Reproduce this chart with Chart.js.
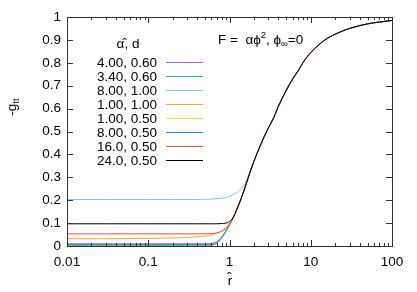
<!DOCTYPE html>
<html>
<head>
<meta charset="utf-8">
<style>
  html, body { margin: 0; padding: 0; background: #fff; }
</style>
<script src="https://cdn.jsdelivr.net/npm/chart.js@4/dist/chart.umd.min.js"></script>
</head>
<body>
<canvas id="gttChart" width="417" height="292"></canvas>
<script>
// radial coordinate r-hat (log axis)
const rValues = [0.01, 0.03, 0.1, 0.2, 0.3, 0.4, 0.5, 0.6, 0.7, 0.8, 0.9, 1.0, 1.1,
  1.25, 1.4, 1.6, 1.8, 2.0, 2.4, 3.0, 3.5, 4, 5, 6, 7, 8, 10, 15, 20, 30, 50, 70, 100]

// outer part shared by all curves, r = 2 ... 100
const tailValues = [0.37, 0.44, 0.515, 0.56, 0.61, 0.68, 0.73, 0.765, 0.80, 0.845,
  0.90, 0.925, 0.95, 0.97, 0.978, 0.985]

// -g_tt, r = 0.01 ... 1.8
const a400d060 = [0.010, 0.010, 0.010, 0.010, 0.010, 0.010, 0.010, 0.012, 0.020, 0.040, 0.066, 0.094, 0.121, 0.166, 0.210, 0.270, 0.325]
const a340d060 = [0.006, 0.006, 0.006, 0.006, 0.006, 0.006, 0.006, 0.008, 0.017, 0.039, 0.066, 0.094, 0.121, 0.166, 0.210, 0.270, 0.325]
const a800d100 = [0.203, 0.203, 0.203, 0.203, 0.203, 0.203, 0.204, 0.205, 0.207, 0.209, 0.212, 0.217, 0.223, 0.235, 0.252, 0.283, 0.327]
const a100d100 = [0.032, 0.032, 0.033, 0.035, 0.037, 0.040, 0.043, 0.048, 0.056, 0.066, 0.079, 0.096, 0.120, 0.165, 0.210, 0.270, 0.325]
const a100d050 = [0.002, 0.002, 0.002, 0.002, 0.002, 0.002, 0.002, 0.004, 0.013, 0.036, 0.064, 0.093, 0.120, 0.165, 0.210, 0.270, 0.325]
const a800d050 = [0.004, 0.004, 0.004, 0.004, 0.004, 0.004, 0.004, 0.005, 0.012, 0.034, 0.062, 0.092, 0.120, 0.165, 0.210, 0.270, 0.325]
const a1600d050 = [0.053, 0.053, 0.053, 0.053, 0.053, 0.053, 0.053, 0.054, 0.057, 0.064, 0.076, 0.095, 0.120, 0.165, 0.210, 0.270, 0.325]
const a2400d050 = [0.097, 0.097, 0.097, 0.097, 0.097, 0.097, 0.097, 0.097, 0.097, 0.098, 0.100, 0.106, 0.123, 0.166, 0.210, 0.270, 0.325]

const seriesLabels = ['4.00, 0.60', '3.40, 0.60', '8.00, 1.00', '1.00, 1.00',
  '1.00, 0.50', '8.00, 0.50', '16.0, 0.50', '24.0, 0.50']
const seriesValues = [a400d060, a340d060, a800d100, a100d100, a100d050, a800d050, a1600d050, a2400d050]
const seriesColors = ['#b062e6', '#20b084', '#78ccf0', '#f2aa30', '#eee040', '#2888cc', '#f04c3c', '#000000']

const xTicks = [0.01, 0.1, 1, 10, 100]
const yTicks = [0, 0.1, 0.2, 0.3, 0.4, 0.5, 0.6, 0.7, 0.8, 0.9, 1]

const FONT = '"Liberation Sans", Arial, sans-serif'
const FS = 13.5

const datasets = seriesValues.map((vals, i) => ({
  label: seriesLabels[i],
  data: vals.concat(tailValues).map((y, j) => ({ x: rValues[j], y })),
  borderColor: seriesColors[i],
  borderWidth: 1,
  pointRadius: 0,
  cubicInterpolationMode: 'monotone',
  order: -i
}))

// frame, mirrored ticks, legend and labels, gnuplot style
const decorations = {
  id: 'decorations',
  afterDatasetsDraw(chart) {
    const { ctx, chartArea: a, scales: { x, y } } = chart
    ctx.save()
    ctx.strokeStyle = '#333'
    ctx.lineWidth = 1
    ctx.beginPath()
    const tick = (px, len) => {
      px = Math.round(px) + 0.5
      ctx.moveTo(px, a.bottom); ctx.lineTo(px, a.bottom - len)
      ctx.moveTo(px, a.top); ctx.lineTo(px, a.top + len)
    }
    for (let e = -2; e <= 2; e++) {
      tick(x.getPixelForValue(Math.pow(10, e)), 6)
      if (e < 2) for (let k = 2; k <= 9; k++) tick(x.getPixelForValue(k * Math.pow(10, e)), 3)
    }
    yTicks.forEach(v => {
      const py = Math.round(y.getPixelForValue(v)) + 0.5
      ctx.moveTo(a.left, py); ctx.lineTo(a.left + 6, py)
      ctx.moveTo(a.right, py); ctx.lineTo(a.right - 6, py)
    })
    ctx.stroke()
    ctx.strokeRect(a.left + 0.5, a.top + 0.5, a.right - a.left, a.bottom - a.top)

    ctx.fillStyle = '#000'
    ctx.font = FS + 'px ' + FONT
    // legend
    ctx.textAlign = 'center'
    ctx.fillText('\u03b1\u0302, d', 128, 48)
    ctx.textAlign = 'right'
    seriesLabels.forEach((lab, i) => {
      const ly = 62.5 + 14 * i
      ctx.fillStyle = '#000'
      ctx.fillText(lab, 157, ly + 4.5)
      ctx.strokeStyle = seriesColors[i]
      ctx.beginPath()
      ctx.moveTo(166, ly); ctx.lineTo(203, ly)
      ctx.stroke()
    })

    // annotation F = alpha phi^2, phi_inf = 0
    ctx.textAlign = 'left'
    ctx.fillStyle = '#000'
    let tx = 218
    const base = 44
    const part = (s, size, dy) => {
      ctx.font = size + 'px ' + FONT
      ctx.fillText(s, tx, base + dy)
      tx += ctx.measureText(s).width
    }
    part('F =  \u03b1\u03d5', FS, 0)
    part('2', 9.5, -6)
    part(', \u03d5', FS, 0)
    part('\u221e', 9.5, 3)
    part('=0', FS, 0)

    // axis titles
    ctx.font = FS + 'px ' + FONT
    ctx.textAlign = 'center'
    ctx.fillText('r\u0302', 230, 285)
    ctx.translate(16, 107)
    ctx.rotate(-Math.PI / 2)
    ctx.textAlign = 'left'
    ctx.font = FS + 'px ' + FONT
    const w1 = ctx.measureText('-g').width
    ctx.font = '9.5px ' + FONT
    const w2 = ctx.measureText('tt').width
    const sx = -(w1 + w2) / 2
    ctx.font = FS + 'px ' + FONT
    ctx.fillText('-g', sx, 0)
    ctx.font = '9.5px ' + FONT
    ctx.fillText('tt', sx + w1, 3)
    ctx.restore()
  }
}

new Chart(document.getElementById('gttChart'), {
  type: 'line',
  data: { datasets },
  options: {
    responsive: false,
    animation: false,
    layout: { padding: { top: 17, right: 25, left: 0, bottom: 0 } },
    plugins: { legend: { display: false }, tooltip: { enabled: false } },
    scales: {
      x: {
        type: 'logarithmic',
        min: 0.01,
        max: 100,
        grid: { display: false, drawTicks: false },
        border: { display: false },
        afterBuildTicks: s => { s.ticks = xTicks.map(v => ({ value: v })) },
        afterFit: s => { s.height = 46 },
        ticks: {
          autoSkip: false,
          maxRotation: 0,
          padding: 8,
          color: '#000',
          font: { family: FONT, size: FS },
          callback: v => String(v)
        }
      },
      y: {
        min: 0,
        max: 1,
        grid: { display: false, drawTicks: false },
        border: { display: false },
        afterBuildTicks: s => { s.ticks = yTicks.map(v => ({ value: v })) },
        afterFit: s => { s.width = 67 },
        ticks: {
          padding: 6,
          color: '#000',
          font: { family: FONT, size: FS },
          callback: v => String(Math.round(v * 10) / 10)
        }
      }
    }
  },
  plugins: [decorations]
})
</script>
</body>
</html>
